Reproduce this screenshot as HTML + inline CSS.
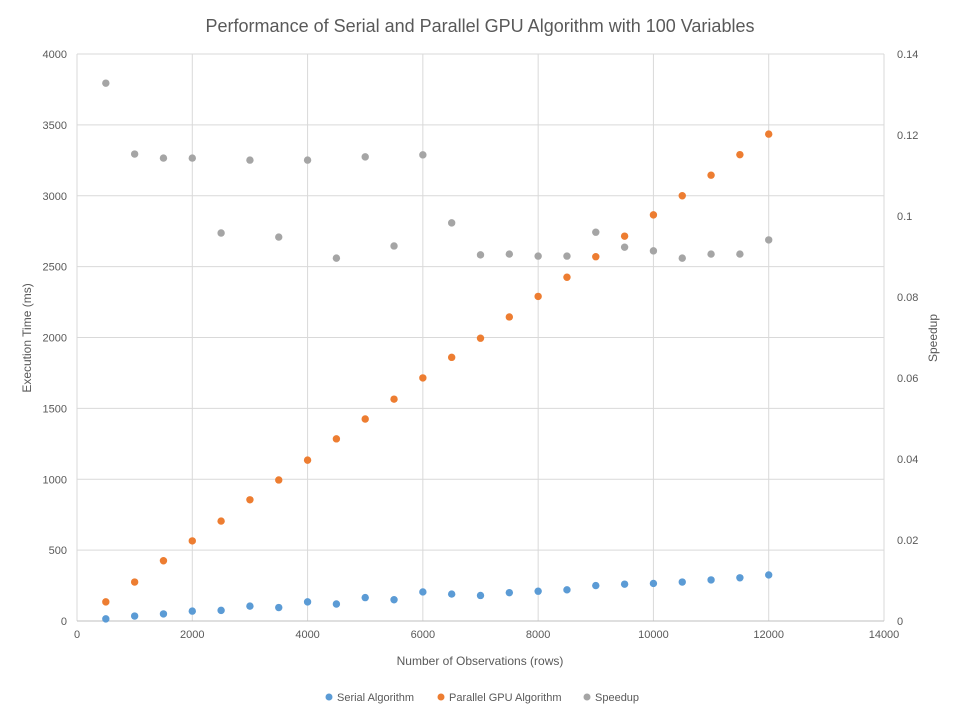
<!DOCTYPE html>
<html><head><meta charset="utf-8"><style>
body{margin:0;background:#fff;font-family:"Liberation Sans",sans-serif;}
svg text{font-family:"Liberation Sans",sans-serif;fill:#595959;}
</style></head><body>
<svg id="chart" width="960" height="720">
<rect width="960" height="720" fill="#fff"/>
<text x="480" y="32" text-anchor="middle" font-size="18">Performance of Serial and Parallel GPU Algorithm with 100 Variables</text>
<g id="grid"></g><g id="axes"></g><g id="marks"></g>
<text transform="translate(31,338) rotate(-90)" text-anchor="middle" font-size="12">Execution Time (ms)</text>
<text transform="translate(937,338) rotate(-90)" text-anchor="middle" font-size="12">Speedup</text>
<text x="480" y="665" text-anchor="middle" font-size="12">Number of Observations (rows)</text>
<g>
<g><circle cx="329" cy="697" r="3.5" fill="#5B9BD5"/><text x="337" y="701" font-size="11">Serial Algorithm</text></g>
<g><circle cx="441" cy="697" r="3.5" fill="#ED7D31"/><text x="449" y="701" font-size="11">Parallel GPU Algorithm</text></g>
<g><circle cx="587" cy="697" r="3.5" fill="#A5A5A5"/><text x="595" y="701" font-size="11">Speedup</text></g>
</g>
</svg>
<script>
const xs=[500,1000,1500,2000,2500,3000,3500,4000,4500,5000,5500,6000,6500,7000,7500,8000,8500,9000,9500,10000,10500,11000,11500,12000];
const serial=[15,35,50,70,75,105,95,135,120,165,150,205,190,180,200,210,220,250,260,265,275,290,305,325];
const parallel=[135,275,425,565,705,855,995,1135,1285,1425,1565,1715,1860,1995,2145,2290,2425,2570,2715,2865,3000,3145,3290,3435];
const speedup=[0.1328,0.1153,0.1143,0.1143,0.0958,0.1138,0.0948,0.1138,0.0896,0.1146,0.0926,0.1151,0.0983,0.0904,0.0906,0.0901,0.0901,0.0960,0.0923,0.0914,0.0896,0.0906,0.0906,0.0941];
const xTicks=[0,2000,4000,6000,8000,10000,12000,14000];
const yTicks=[0,500,1000,1500,2000,2500,3000,3500,4000];
const y2Ticks=[0,0.02,0.04,0.06,0.08,0.1,0.12,0.14];
const L=77,R=884,T=54,B=621;
const X=v=>L+v/14000*(R-L), Y=v=>B-v/4000*(B-T), Y2=v=>B-v/0.14*(B-T);
const NS='http://www.w3.org/2000/svg';
function mk(p,t,a){const e=document.createElementNS(NS,t);for(const k in a)e.setAttribute(k,a[k]);p.appendChild(e);return e;}
const g=document.getElementById('grid'),ax=document.getElementById('axes'),m=document.getElementById('marks');
xTicks.forEach(v=>{const l=mk(g,'line',{x1:X(v),x2:X(v),y1:T,y2:B,stroke:'#d9d9d9'});

const t=mk(ax,'text',{x:X(v),y:B+17,'text-anchor':'middle','font-size':11});t.textContent=v;
});
yTicks.forEach(v=>{const l=mk(g,'line',{x1:L,x2:R,y1:Y(v),y2:Y(v),stroke:'#d9d9d9'});

const t=mk(ax,'text',{x:L-10,y:Y(v)+4,'text-anchor':'end','font-size':11});t.textContent=v;
});
y2Ticks.forEach(v=>{const t=mk(ax,'text',{x:R+13,y:Y2(v)+4,'font-size':11});t.textContent=v===0?'0':String(v);
});
const base=mk(ax,'line',{x1:L,x2:R,y1:B,y2:B,stroke:'#bfbfbf'});

function series(arr,yf,col,name){arr.forEach((v,i)=>{const c=mk(m,'circle',{cx:X(xs[i]),cy:yf(v),r:3.7,fill:col});
});}
series(serial,Y,'#5B9BD5','serial-point');
series(parallel,Y,'#ED7D31','parallel-point');
series(speedup,Y2,'#A5A5A5','speedup-point');
</script>
</body></html>
